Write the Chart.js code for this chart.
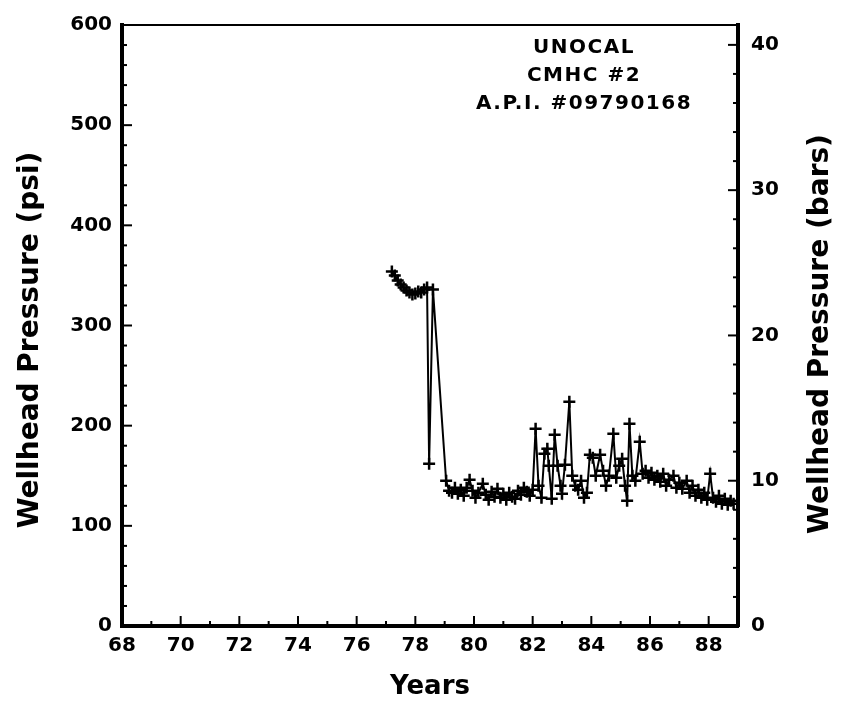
<!DOCTYPE html>
<html>
<head>
<meta charset="utf-8">
<script src="https://cdn.jsdelivr.net/npm/chart.js@4/dist/chart.umd.min.js"></script>
<style>
  html, body { margin: 0; padding: 0; background: #fff; }
  #wrap { width: 842px; height: 708px; }
</style>
</head>
<body>
<div id="wrap"><canvas id="c" width="842" height="708"></canvas></div>
<script>
// well data (year, wellhead pressure in psi)
var years = [77.2, 77.3, 77.4, 77.5, 77.6, 77.7, 77.8, 77.9, 78.0, 78.1, 78.2, 78.3, 78.4, 78.47, 78.6,
  79.05, 79.15, 79.25, 79.35, 79.45, 79.55, 79.65, 79.75, 79.85, 79.95, 80.05, 80.15, 80.3, 80.4, 80.5,
  80.6, 80.7, 80.8, 80.9, 81.0, 81.1, 81.2, 81.3, 81.4, 81.5, 81.6, 81.7, 81.8, 81.9, 82.0, 82.1, 82.2,
  82.3, 82.4, 82.5, 82.55, 82.65, 82.75, 82.85, 82.95, 83.0, 83.1, 83.25, 83.35, 83.45, 83.55, 83.65,
  83.75, 83.85, 83.95, 84.05, 84.15, 84.3, 84.4, 84.5, 84.6, 84.75, 84.85, 84.95, 85.05, 85.15, 85.22,
  85.3, 85.4, 85.5, 85.65, 85.75, 85.85, 85.95, 86.05, 86.15, 86.25, 86.35, 86.45, 86.55, 86.65, 86.8,
  86.9, 87.0, 87.1, 87.25, 87.35, 87.45, 87.55, 87.65, 87.75, 87.85, 87.95, 88.05, 88.15, 88.25, 88.35,
  88.45, 88.55, 88.65, 88.75, 88.85];
var psi = [354, 350, 345, 341, 338, 335, 333, 331, 332, 334, 333, 336, 338, 162, 336,
  145, 135, 133, 138, 132, 136, 130, 138, 146, 135, 128, 133, 142, 131, 126,
  134, 129, 137, 128, 132, 126, 133, 129, 127, 135, 131, 138, 134, 130, 136, 197, 140,
  128, 172, 177, 160, 127, 191, 160, 140, 132, 161, 224, 150, 140, 136, 145,
  128, 133, 171, 168, 150, 171, 155, 140, 150, 192, 148, 160, 167, 140, 125,
  202, 150, 145, 184, 152, 155, 148, 153, 146, 150, 144, 152, 140, 146, 150,
  138, 143, 137, 145, 133, 140, 130, 136, 128, 133, 126, 152, 128, 124, 130,
  122, 127, 121, 125, 122];

var yearLabels = [68, 70, 72, 74, 76, 78, 80, 82, 84, 86, 88];
var psiLabels = [0, 100, 200, 300, 400, 500, 600];
var barLabels = [0, 10, 20, 30, 40];
var noteLines = ['UNOCAL', 'CMHC #2', 'A.P.I. #09790168'];

var PSI_PER_BAR = 14.5038;
var FONT = 'DejaVu Sans';

var points = [];
for (var i = 0; i < years.length; i++) points.push({x: years[i], y: psi[i]});

function tickList(from, to, step) {
  var out = [];
  for (var v = from; v <= to + 1e-9; v += step) out.push({value: v});
  return out;
}

function sideTitle(ctx, text, x, y) {
  ctx.save();
  ctx.translate(x, y);
  ctx.rotate(-Math.PI / 2);
  ctx.fillText(text, 0, 0);
  ctx.restore();
}

// inward ticks, long on labelled values, plus top frame line, side titles and the notes
var framePlugin = {
  id: 'frame',
  afterDraw: function(chart) {
    var ctx = chart.ctx, a = chart.chartArea;
    ctx.save();
    ctx.strokeStyle = '#000';
    ctx.lineWidth = 2;
    var xs = chart.scales.x;
    xs.ticks.forEach(function(t) {
      var px = xs.getPixelForValue(t.value);
      var len = yearLabels.indexOf(t.value) >= 0 ? 10 : 5;
      ctx.beginPath(); ctx.moveTo(px, a.bottom); ctx.lineTo(px, a.bottom - len); ctx.stroke();
    });
    var ys = chart.scales.y;
    ys.ticks.forEach(function(t) {
      var py = ys.getPixelForValue(t.value);
      var len = psiLabels.indexOf(t.value) >= 0 ? 10 : 5;
      ctx.beginPath(); ctx.moveTo(a.left, py); ctx.lineTo(a.left + len, py); ctx.stroke();
    });
    var y2 = chart.scales.y2;
    y2.ticks.forEach(function(t) {
      var py = y2.getPixelForValue(t.value);
      var len = barLabels.indexOf(t.value) >= 0 ? 10 : 5;
      ctx.beginPath(); ctx.moveTo(a.right, py); ctx.lineTo(a.right - len, py); ctx.stroke();
    });
    // top edge of the box
    ctx.lineWidth = 2;
    ctx.beginPath(); ctx.moveTo(a.left, a.top); ctx.lineTo(a.right, a.top); ctx.stroke();

    // both side titles read bottom to top
    ctx.fillStyle = '#000';
    ctx.font = 'bold 28px "' + FONT + '"';
    ctx.textAlign = 'center';
    ctx.textBaseline = 'middle';
    sideTitle(ctx, 'Wellhead Pressure (psi)', 31, 340);
    sideTitle(ctx, 'Wellhead Pressure (bars)', 821, 334);

    // well id block
    ctx.font = 'bold 20px "' + FONT + '"';
    try { ctx.letterSpacing = '1.5px'; } catch (e) {}
    noteLines.forEach(function(s, k) {
      ctx.fillText(s, 584, 48 + k * 28);
    });
    ctx.restore();
  }
};

var tickFont = {family: FONT, size: 20, weight: 'bold'};

new Chart(document.getElementById('c'), {
  type: 'scatter',
  data: {
    datasets: [{
      data: points,
      showLine: true,
      borderColor: '#000',
      borderWidth: 2,
      pointStyle: 'cross',
      pointRadius: 6,
      pointBorderWidth: 2.5,
      pointBorderColor: '#000',
      pointBackgroundColor: '#000',
      tension: 0
    }]
  },
  options: {
    responsive: false,
    animation: false,
    layout: {padding: {top: 20, left: 0, right: 0, bottom: 0}},
    plugins: {legend: {display: false}, tooltip: {enabled: false}},
    scales: {
      x: {
        type: 'linear', position: 'bottom', min: 68, max: 89,
        afterBuildTicks: function(s) { s.ticks = tickList(68, 88, 1); },
        afterFit: function(s) { s.height = 82; },
        grid: {display: true, drawOnChartArea: false, drawTicks: false},
        border: {display: true, color: '#000', width: 4},
        ticks: {
          autoSkip: false, maxRotation: 0, padding: 8, color: '#000', font: tickFont,
          callback: function(v) { return yearLabels.indexOf(v) >= 0 ? String(v) : ''; }
        },
        title: {display: true, text: 'Years', color: '#000',
          font: {family: FONT, size: 26, weight: 'bold'}, padding: {top: 0, bottom: 5}}
      },
      y: {
        type: 'linear', position: 'left', min: 0, max: 600,
        afterBuildTicks: function(s) { s.ticks = tickList(0, 600, 20); },
        afterFit: function(s) { s.width = 122; },
        grid: {display: true, drawOnChartArea: false, drawTicks: false},
        border: {display: true, color: '#000', width: 4},
        ticks: {
          autoSkip: false, padding: 10, color: '#000', font: tickFont,
          callback: function(v) { return psiLabels.indexOf(v) >= 0 ? String(v) : ''; }
        }
      },
      y2: {
        type: 'linear', position: 'right', min: 0, max: 600 / PSI_PER_BAR,
        afterBuildTicks: function(s) { s.ticks = tickList(0, 40, 2); },
        afterFit: function(s) { s.width = 104; },
        grid: {display: true, drawOnChartArea: false, drawTicks: false},
        border: {display: true, color: '#000', width: 4},
        ticks: {
          autoSkip: false, padding: 13, color: '#000', font: tickFont,
          callback: function(v) { return barLabels.indexOf(v) >= 0 ? String(v) : ''; }
        }
      }
    }
  },
  plugins: [framePlugin]
});
</script>
</body>
</html>
